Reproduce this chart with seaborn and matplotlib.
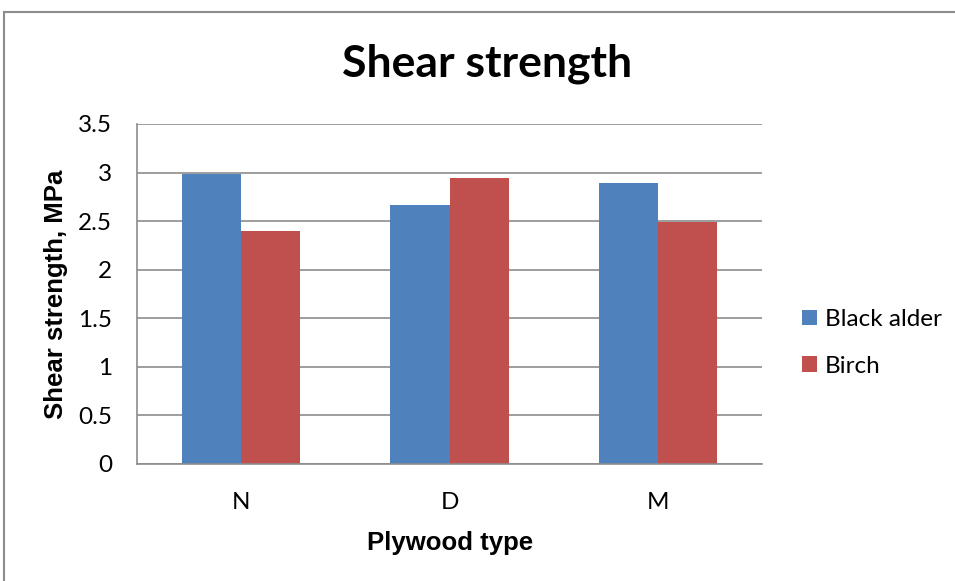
import matplotlib
matplotlib.use("Agg")
import matplotlib.pyplot as plt
import seaborn as sns
import pandas as pd
from matplotlib.patches import Rectangle

plywood_types = ["N", "D", "M"]
species = ["Black alder", "Birch"]
black_alder = [2.98, 2.67, 2.89]
birch = [2.40, 2.94, 2.49]
y_ticks = [0, 0.5, 1, 1.5, 2, 2.5, 3, 3.5]
y_tick_labels = ["0", "0.5", "1", "1.5", "2", "2.5", "3", "3.5"]
colors = ["#4F81BD", "#C0504D"]

df = pd.DataFrame({
    "Plywood type": plywood_types * 2,
    "Species": [species[0]] * 3 + [species[1]] * 3,
    "Strength": black_alder + birch,
})

sns.set_theme(style="white")
plt.rcParams["font.family"] = ["Lato", "DejaVu Sans"]
plt.rcParams["text.color"] = "black"
plt.rcParams["xtick.labelcolor"] = "black"
plt.rcParams["ytick.labelcolor"] = "black"
plt.rcParams["axes.labelcolor"] = "black"

fig = plt.figure(figsize=(9.55, 5.81), dpi=100)
ax = fig.add_axes([0.1435, 0.2014, 0.798 - 0.1435, 0.7866 - 0.2014])

sns.barplot(data=df, x="Plywood type", y="Strength", hue="Species",
            palette=colors, width=0.567, gap=0, ax=ax, saturation=1,
            edgecolor="none", linewidth=0, legend=True)

ax.set_ylim(0, 3.5)
ax.set_xlim(-0.5, 2.5)
ax.set_yticks(y_ticks)
ax.set_yticklabels(y_tick_labels, fontsize=17.5)
ax.yaxis.grid(True, color="#8c8c8c", linewidth=1.2)
ax.set_axisbelow(True)

# category ticks sit on the group boundaries
ax.set_xticks([-0.5, 0.5, 1.5, 2.5])
ax.set_xticklabels([])
ax.set_xticks([0, 1, 2], minor=True)
ax.set_xticklabels(plywood_types, minor=True, fontsize=17.5)
ax.tick_params(axis="x", which="major", direction="out", length=6, color="#8c8c8c", width=1)
ax.tick_params(axis="x", which="minor", length=0, pad=20)
ax.tick_params(axis="y", direction="out", length=6, color="#8c8c8c", width=1, pad=12)

for side in ["top", "right"]:
    ax.spines[side].set_visible(False)
for side in ["left", "bottom"]:
    ax.spines[side].set_color("#8c8c8c")
    ax.spines[side].set_linewidth(1.2)

ax.set_xlabel("Plywood type", family="Liberation Sans", fontsize=18.5,
              fontweight="bold", labelpad=13)
ax.set_ylabel("Shear strength, MPa", family="Liberation Sans", fontsize=18.5,
              fontweight="bold", labelpad=7)
fig.text(0.51, 0.89, "Shear strength", ha="center", va="center",
         fontsize=32, fontweight="bold")

leg = ax.legend(loc="center left", bbox_to_anchor=(1.029, 0.356), frameon=False,
                fontsize=17.5, handlelength=0.6, handleheight=0.6,
                handletextpad=0.35, labelspacing=1.05)

# chart frame
fig.patches.append(Rectangle((4 / 955, -0.1), 1.2, 1 - 12 / 581 + 0.1,
                             transform=fig.transFigure, fill=False,
                             edgecolor="#8c8c8c", linewidth=1.5))

fig.savefig("out.png", dpi=100)
